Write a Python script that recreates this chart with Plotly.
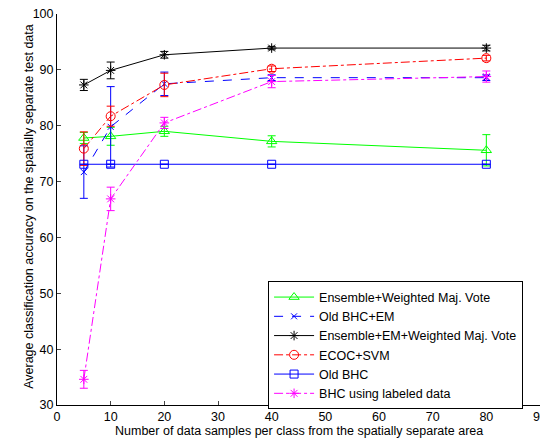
import plotly.graph_objects as go

x_vals = [5, 10, 20, 40, 80]

names = ["Ensemble+Weighted Maj. Vote", "Old BHC+EM", "Ensemble+EM+Weighted Maj. Vote",
         "ECOC+SVM", "Old BHC", "BHC using labeled data"]

ens_wmv = [77.8, 78.1, 79.0, 77.2, 75.6]
ens_wmv_err = [1.0, 1.6, 0.9, 1.0, 2.8]

old_bhc_em = [71.7, 79.8, 87.5, 88.6, 88.6]
old_bhc_em_err = [4.7, 7.2, 2.1, 0.5, 0.5]

ens_em_wmv = [87.3, 89.9, 92.7, 93.9, 93.9]
ens_em_wmv_err = [1.0, 1.5, 0.6, 0.3, 0.5]

ecoc_svm = [75.9, 81.7, 87.3, 90.2, 92.1]
ecoc_svm_err = [3.0, 1.8, 2.1, 0.5, 0.5]

old_bhc = [73.1, 73.1, 73.1, 73.1, 73.1]
old_bhc_err = [0, 0, 0, 0, 0]

bhc_labeled = [34.6, 66.9, 80.5, 87.9, 88.8]
bhc_labeled_err = [1.6, 2.1, 1.0, 1.1, 1.0]

x_title = "Number of data samples per class from the spatially separate area"
y_title = "Average classification accuracy on the spatially separate test data"

series = [
    (ens_wmv, ens_wmv_err, "#00ff00", "solid", "triangle-up-open", 9),
    (old_bhc_em, old_bhc_em_err, "#0000ff", "dash", "x-thin-open", 6),
    (ens_em_wmv, ens_em_wmv_err, "#000000", "solid", "asterisk-open", 8),
    (ecoc_svm, ecoc_svm_err, "#ff0000", "dashdot", "circle-open", 9),
    (old_bhc, old_bhc_err, "#0000ff", "solid", "square-open", 8),
    (bhc_labeled, bhc_labeled_err, "#ff00ff", "dashdot", "asterisk-open", 8),
]

fig = go.Figure()
for name, (vals, errs, col, dash, sym, sz) in zip(names, series):
    fig.add_trace(go.Scatter(
        x=x_vals, y=vals, name=name, mode="lines+markers",
        line=dict(color=col, width=1, dash=dash),
        marker=dict(symbol=sym, size=sz, color=col, line=dict(color=col, width=1)),
        error_y=dict(type="data", array=errs, visible=True, color=col, thickness=1, width=4),
    ))

font = "Liberation Sans, Arial, Helvetica, sans-serif"
# the page body has an 8px margin, so the figure is drawn 8px smaller and offset
fig.update_layout(
    width=540, height=430,
    margin=dict(l=48.5, r=7.7, t=5.5, b=33.3, autoexpand=False),
    paper_bgcolor="white", plot_bgcolor="white",
    font=dict(family=font, size=13, color="black"),
    showlegend=True,
    legend=dict(x=0.437, y=0.316, xanchor="left", yanchor="top",
                bgcolor="white", bordercolor="black", borderwidth=1,
                font=dict(size=12.5), itemwidth=40, traceorder="normal",
                tracegroupgap=0),
    xaxis=dict(range=[0, 90], dtick=10, tick0=0, ticks="inside", ticklen=4,
               showline=True, linecolor="black", linewidth=1, showgrid=False,
               zeroline=False, tickfont=dict(size=12.5), automargin=False,
               ticklabeloverflow="allow"),
    yaxis=dict(range=[30, 100], dtick=10, tick0=30, ticks="inside", ticklen=4,
               showline=True, linecolor="black", linewidth=1, showgrid=False,
               zeroline=False, tickfont=dict(size=12.5), automargin=False,
               ticklabeloverflow="allow"),
    annotations=[
        dict(text=x_title, xref="paper", yref="paper", x=0.502, y=-0.067,
             xanchor="center", yanchor="middle", showarrow=False,
             font=dict(size=12.5, family=font)),
        dict(text=y_title, xref="paper", yref="paper", x=-0.057, y=0.508,
             xanchor="center", yanchor="middle", showarrow=False, textangle=-90,
             font=dict(size=12.5, family=font)),
    ],
)

fig.write_html("out.html", post_script="document.body.style.overflow='hidden';")
